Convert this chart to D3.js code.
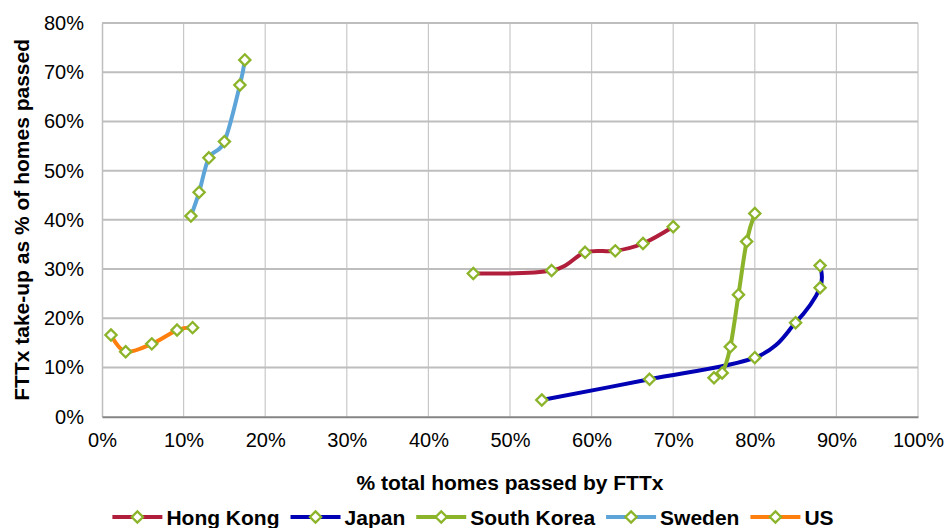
<!DOCTYPE html>
<html>
<head>
<meta charset="utf-8">
<script src="https://cdn.jsdelivr.net/npm/d3@7"></script>
<style>
  html, body { margin: 0; padding: 0; background: #ffffff; }
  svg { display: block; font-family: "Liberation Sans", Arial, sans-serif; }
</style>
</head>
<body>
<svg id="chart" width="946" height="528"></svg>
<script>
// Series: x = % total homes passed by FTTx, y = FTTx take-up as % of homes passed
const seriesNames = ["Hong Kong", "Japan", "South Korea", "Sweden", "US"];
const hongKongX = [45.5, 55.1, 59.2, 62.9, 66.3, 70.0];
const hongKongY = [29.1, 29.7, 33.4, 33.7, 35.2, 38.6];
const japanX = [53.9, 67.1, 80.0, 85.0, 88.0, 88.0];
const japanY = [3.4, 7.6, 12.0, 19.1, 26.2, 30.7];
const southKoreaX = [75.0, 76.0, 77.0, 78.0, 79.0, 80.0];
const southKoreaY = [7.9, 8.9, 14.2, 24.8, 35.6, 41.3];
const swedenX = [10.9, 11.9, 13.1, 15.0, 16.9, 17.5];
const swedenY = [40.8, 45.6, 52.6, 55.9, 67.4, 72.5];
const usX = [1.1, 2.9, 6.1, 9.2, 11.1];
const usY = [16.6, 13.2, 14.8, 17.6, 18.1];

const xTicks = [0, 10, 20, 30, 40, 50, 60, 70, 80, 90, 100];
const yTicks = [0, 10, 20, 30, 40, 50, 60, 70, 80];
const xTitle = "% total homes passed by FTTx";
const yTitle = "FTTx take-up as % of homes passed";

const seriesColors = ["#B01E3C", "#0000B4", "#8CB42A", "#5DA5D8", "#FF7F0E"];
const markerColor = "#8CB42A";

const seriesX = [hongKongX, japanX, southKoreaX, swedenX, usX];
const seriesY = [hongKongY, japanY, southKoreaY, swedenY, usY];
const series = seriesNames.map((name, i) => ({
  name,
  color: seriesColors[i],
  points: seriesX[i].map((x, j) => ({ x, y: seriesY[i][j] }))
}));

const svg = d3.select("#chart");
const W = 946, H = 528;
const plot = { left: 102, right: 918, top: 23, bottom: 416.7 };

const x = d3.scaleLinear().domain([0, 100]).range([plot.left, plot.right]);
const y = d3.scaleLinear().domain([0, 80]).range([plot.bottom, plot.top]);
const pct = d => d + "%";

// Gridlines
const grid = svg.append("g");
grid.selectAll("line.v").data(xTicks.slice(1)).join("line")
  .attr("x1", d => x(d)).attr("x2", d => x(d))
  .attr("y1", plot.top).attr("y2", plot.bottom)
  .attr("stroke", "#C8C8C8").attr("stroke-width", 1.2);
grid.selectAll("line.h").data(yTicks.slice(1)).join("line")
  .attr("x1", plot.left).attr("x2", plot.right)
  .attr("y1", d => y(d)).attr("y2", d => y(d))
  .attr("stroke", "#BEBEBE").attr("stroke-width", 2);

// Axes
const xAxis = svg.append("g")
  .attr("transform", `translate(0,${plot.bottom})`)
  .call(d3.axisBottom(x).tickValues(xTicks).tickFormat(pct).tickSize(0).tickPadding(16));
xAxis.select(".domain").attr("stroke", "#858585").attr("stroke-width", 2);
xAxis.selectAll("text").attr("font-size", 20).attr("fill", "#000")
  .attr("font-family", "Liberation Sans, Arial, sans-serif");

const yAxis = svg.append("g")
  .attr("transform", `translate(${plot.left},0)`)
  .call(d3.axisLeft(y).tickValues(yTicks).tickFormat(pct).tickSize(0).tickPadding(18));
yAxis.select(".domain").attr("stroke", "#BEBEBE").attr("stroke-width", 1.5);
yAxis.selectAll("text").attr("font-size", 20).attr("fill", "#000")
  .attr("font-family", "Liberation Sans, Arial, sans-serif");
xAxis.raise();

// Axis titles
svg.append("text")
  .attr("x", (plot.left + plot.right) / 2).attr("y", 490)
  .attr("text-anchor", "middle")
  .attr("font-size", 21).attr("font-weight", "bold")
  .text(xTitle);
svg.append("text")
  .attr("transform", `translate(29,${(plot.top + plot.bottom) / 2}) rotate(-90)`)
  .attr("text-anchor", "middle")
  .attr("font-size", 21).attr("font-weight", "bold")
  .text(yTitle);

// Smoothed series lines with diamond markers
const line = d3.line()
  .x(d => x(d.x)).y(d => y(d.y))
  .curve(d3.curveCardinal.tension(0));
const diamond = (cx, cy, r) => `M${cx},${cy - r}L${cx + r},${cy}L${cx},${cy + r}L${cx - r},${cy}Z`;

series.forEach(s => {
  const g = svg.append("g");
  g.append("path")
    .datum(s.points)
    .attr("d", line)
    .attr("fill", "none")
    .attr("stroke", s.color)
    .attr("stroke-width", 4)
    .attr("stroke-linejoin", "round")
    .attr("stroke-linecap", "round");
  g.selectAll("path.m").data(s.points).join("path")
    .attr("d", d => diamond(x(d.x), y(d.y), 5.6))
    .attr("fill", "#ffffff")
    .attr("stroke", markerColor)
    .attr("stroke-width", 2.3);
});

// Legend
const legend = svg.append("g");
const legendY = 517;
const items = series.map(s => {
  const g = legend.append("g");
  g.append("line").attr("x1", 0).attr("x2", 50).attr("y1", legendY).attr("y2", legendY)
    .attr("stroke", s.color).attr("stroke-width", 4);
  g.append("path").attr("d", diamond(25, legendY, 5.6))
    .attr("fill", "#ffffff").attr("stroke", markerColor).attr("stroke-width", 2.3);
  const t = g.append("text").attr("x", 54).attr("y", legendY + 7.5)
    .attr("font-size", 21).attr("font-weight", "bold").text(s.name);
  return { g, w: 54 + t.node().getComputedTextLength() };
});
const gap = 11;
const total = d3.sum(items, d => d.w) + gap * (items.length - 1);
let cursor = W / 2 - total / 2;
items.forEach(it => {
  it.g.attr("transform", `translate(${cursor},0)`);
  cursor += it.w + gap;
});
</script>
</body>
</html>
